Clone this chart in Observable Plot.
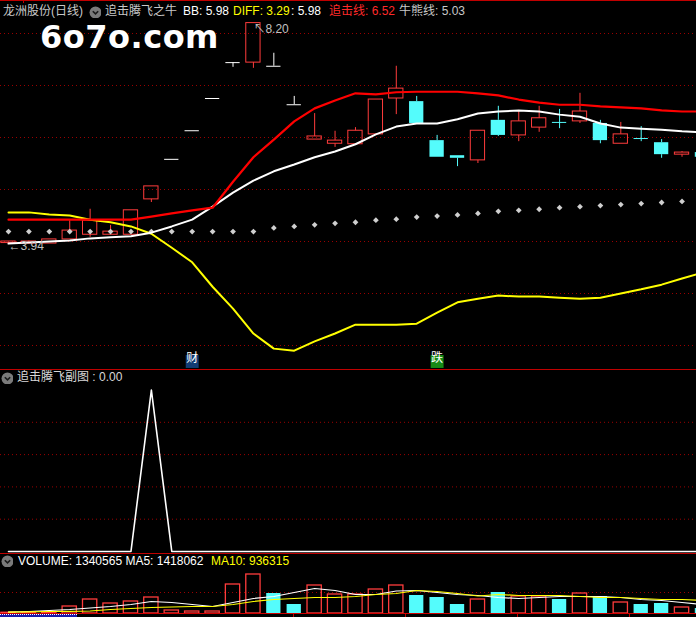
<!DOCTYPE html>
<html><head><meta charset="utf-8">
<script src="https://cdn.jsdelivr.net/npm/d3@7"></script>
<script src="https://cdn.jsdelivr.net/npm/@observablehq/plot@0.6"></script>
<style>
html,body{margin:0;padding:0;background:#000;}
#wrap{position:relative;width:696px;height:617px;overflow:hidden;background:#000;font-family:"Liberation Sans","Noto Sans CJK SC",sans-serif;font-size:12px;}
.pane{position:absolute;left:0;width:696px;overflow:hidden;}
.pane svg{display:block;}
.t{position:absolute;white-space:nowrap;line-height:13px;font-size:12px;font-family:"Liberation Sans","Noto Sans CJK SC",sans-serif;}
.hr{position:absolute;left:0;width:696px;height:1px;background:#c00000;}
.wm{position:absolute;left:40px;top:23px;font-family:"DejaVu Sans";font-weight:bold;font-size:32px;line-height:28px;color:#fff;letter-spacing:0.5px;}
.ic{position:absolute;width:12px;height:12px;}
</style></head>
<body><div id="wrap"></div>
<script>
// ---------------- DATA ----------------
const opens  = [3.97,3.96,3.96,4.04,4.13,4.13,4.13,4.81,5.58,6.13,6.75,7.44,7.44,7.37,6.63,5.96,5.88,5.87,6.06,6.75,6.69,5.94,5.65,5.56,6.33,6.04,6.19,6.29,6.31,6.27,5.88,5.98,5.90,5.67,5.71];
const closes = [4.00,4.00,4.04,4.21,4.40,4.19,4.60,5.06,5.58,6.13,6.75,7.44,8.20,7.37,6.63,6.02,5.94,6.13,6.73,6.94,6.27,5.62,5.60,6.13,6.04,6.31,6.37,6.29,6.50,5.94,6.06,5.98,5.67,5.71,5.62];
const highs  = [4.00,4.01,4.04,4.40,4.62,4.31,4.60,5.06,5.58,6.13,6.75,7.44,8.20,7.62,6.79,6.46,6.12,6.19,6.73,7.37,6.79,6.04,5.65,6.13,6.60,6.52,6.60,6.54,6.85,6.33,6.29,6.21,5.96,5.73,5.71];
const lows   = [3.94,3.95,3.96,4.04,4.08,4.13,4.13,4.75,5.58,6.13,6.75,7.35,7.33,7.37,6.63,5.96,5.81,5.87,6.06,6.44,6.27,5.62,5.44,5.50,6.02,5.92,6.10,6.17,6.27,5.88,5.88,5.92,5.60,5.62,5.62];
const kinds  = ["up","up","up","up","up","up","up","up","flat","flat","flat","flat","up","flat","flat","up","up","up","up","up","down","down","down","up","down","up","up","down","up","down","up","down","down","up","down"];

const chaseLine = [4.42,4.42,4.42,4.42,4.42,4.42,4.42,4.48,4.54,4.60,4.65,5.15,5.62,5.96,6.31,6.56,6.71,6.85,6.83,6.87,6.88,6.88,6.88,6.85,6.81,6.73,6.67,6.63,6.63,6.60,6.58,6.56,6.52,6.50,6.50];
const bbLine    = [3.96,3.98,4.00,4.02,4.06,4.08,4.10,4.17,4.29,4.42,4.67,4.94,5.17,5.35,5.48,5.62,5.73,5.87,6.06,6.21,6.27,6.27,6.35,6.46,6.50,6.52,6.50,6.44,6.40,6.27,6.19,6.17,6.15,6.12,6.10];
const diffLine  = [4.56,4.56,4.52,4.50,4.42,4.37,4.29,4.15,3.88,3.60,3.13,2.71,2.23,1.94,1.90,2.08,2.23,2.40,2.40,2.40,2.42,2.63,2.83,2.90,2.96,2.94,2.94,2.92,2.90,2.92,3.00,3.08,3.17,3.29,3.40];
const bullBear  = [4.19,4.19,4.19,4.19,4.19,4.19,4.19,4.19,4.19,4.19,4.19,4.19,4.19,4.26,4.29,4.32,4.35,4.37,4.41,4.43,4.47,4.49,4.51,4.54,4.58,4.60,4.62,4.65,4.67,4.69,4.71,4.73,4.75,4.77,4.79];
const mainGrid  = [2,3,4,5,6,7,8];

const signalIdx  = [9, 21];
const signalText = ["财", "跌"];

const subValues = [0,0,0,0,0,0,0,5,0,0,0,0,0,0,0,0,0,0,0,0,0,0,0,0,0,0,0,0,0,0,0,0,0,0,0];
const subGrid   = [1,2,3,4];

const volumes  = [150000,150000,200000,1400000,2800000,2000000,2400000,3200000,600000,400000,400000,5800000,7800000,4000000,1800000,5600000,3800000,3800000,4800000,5600000,3600000,3200000,1800000,2800000,4200000,3400000,3400000,2800000,4000000,3400000,2200000,1800000,2000000,1200000,1000000];
const volKinds = ["up","up","up","up","up","up","up","up","up","up","up","up","up","down","down","up","up","up","up","up","down","down","down","up","down","up","up","down","up","down","up","down","down","up","down"];
const volMA5   = [260000,400000,600000,800000,1100000,1400000,1800000,2400000,2200000,1800000,1400000,2200000,3000000,3400000,4200000,5000000,4600000,3800000,3800000,4500000,4600000,4200000,3800000,3600000,3200000,3000000,3200000,3400000,3400000,3400000,3200000,2800000,2600000,2200000,1800000];
const volMA10  = [260000,340000,400000,440000,500000,800000,1000000,1200000,1300000,1400000,1400000,1800000,2400000,2800000,3000000,3200000,3200000,3400000,3800000,4000000,4600000,4400000,4000000,3500000,3800000,3600000,3600000,3600000,3400000,3200000,3200000,3000000,2800000,2800000,2600000];
const volGrid  = [4200000];

const mainTitle = ["龙洲股份(日线)", "追击腾飞之牛", "BB: 5.98", "DIFF: 3.29", " : 5.98", "追击线: 6.52", "牛熊线: 5.03"];
const subTitle  = ["追击腾飞副图 : 0.00"];
const volTitle  = ["VOLUME: 1340565  MA5: 1418062", "MA10: 936315"];

// ---------------- LAYOUT / STYLE ----------------
const W = 696, STEP = 20.41, X0 = 8;
const xDomain = [-X0 / STEP, (W - X0) / STEP];
const RED = "#ff3c3c", CYAN = "#54fcfc", WHITE = "#ffffff", GRID = "#9a0000";
const HW = 0.35;

const candles = opens.map((o, i) => ({i, o, c: closes[i], h: highs[i], l: lows[i], k: kinds[i],
  chase: chaseLine[i], bb: bbLine[i], diff: diffLine[i], bull: bullBear[i]}));
const vols = volumes.map((v, i) => ({i, v, k: volKinds[i], ma5: volMA5[i], ma10: volMA10[i], sub: subValues[i]}));
const sigs = signalIdx.map((i, j) => ({i, t: signalText[j]}));

const wrap = document.getElementById("wrap");
function pane(top, h, svg) {
  const d = document.createElement("div");
  d.className = "pane"; d.style.top = top + "px"; d.style.height = h + "px";
  d.appendChild(svg); wrap.appendChild(d);
}
const baseStyle = {background: "transparent", fontFamily: "Liberation Sans, Noto Sans CJK SC, sans-serif"};

const up = candles.filter(d => d.k === "up");
const down = candles.filter(d => d.k === "down");
const flat = candles.filter(d => d.k === "flat");
const hiC = candles.reduce((a, b) => (b.h > a.h ? b : a));
const loC = candles.reduce((a, b) => (b.l < a.l ? b : a));
const wickMarks = (arr, col) => [
  Plot.ruleX(arr, {x: "i", y1: d => Math.max(d.o, d.c), y2: "h", stroke: col, strokeWidth: 1}),
  Plot.ruleX(arr, {x: "i", y1: d => Math.min(d.o, d.c), y2: "l", stroke: col, strokeWidth: 1})
];

// MAIN PANEL: page y = 33 + (8 - p) * 52
const mainH = 369;
const main = Plot.plot({
  width: W, height: mainH, margin: 0,
  x: {domain: xDomain, axis: null},
  y: {domain: [8 - (mainH - 33) / 52, 8 + 33 / 52], axis: null},
  style: baseStyle,
  marks: [
    Plot.ruleY(mainGrid, {stroke: GRID, strokeDasharray: "1,3"}),
    ...wickMarks(up, RED), ...wickMarks(down, CYAN), ...wickMarks(flat, WHITE),
    Plot.rect(up, {x1: d => d.i - HW, x2: d => d.i + HW, y1: "o", y2: "c", fill: "none", stroke: RED, strokeWidth: 1}),
    Plot.rect(down.filter(d => d.o !== d.c), {x1: d => d.i - HW, x2: d => d.i + HW, y1: "o", y2: "c", fill: CYAN}),
    Plot.ruleY(down.filter(d => d.o === d.c), {y: "o", x1: d => d.i - HW, x2: d => d.i + HW, stroke: CYAN}),
    Plot.ruleY(flat, {y: "o", x1: d => d.i - HW, x2: d => d.i + HW, stroke: WHITE}),
    Plot.dot(candles, {x: "i", y: "bull", symbol: "diamond2", r: 2.6, fill: "#cfcfcf", stroke: "none"}),
    Plot.line(candles, {x: "i", y: "diff", stroke: "#ffff00", strokeWidth: 2}),
    Plot.line(candles, {x: "i", y: "bb", stroke: WHITE, strokeWidth: 2}),
    Plot.line(candles, {x: "i", y: "chase", stroke: "#ff0000", strokeWidth: 2.2}),
    Plot.text([hiC], {x: "i", y: "h", text: d => "↖" + d.h.toFixed(2), textAnchor: "start", dx: 0, dy: 6, fill: "#c0c0c0", fontSize: 12}),
    Plot.text([loC], {x: "i", y: "l", text: d => "←" + d.l.toFixed(2), textAnchor: "start", dx: 0, dy: 2, fill: "#c0c0c0", fontSize: 12}),
    Plot.dot(sigs.filter(d => d.t === "财"), {x: "i", frameAnchor: "bottom", dy: -8, symbol: "square", r: 7.3, fill: "#123c74"}),
    Plot.dot(sigs.filter(d => d.t === "跌"), {x: "i", frameAnchor: "bottom", dy: -8, symbol: "square", r: 7.3, fill: "#168a16"}),
    Plot.text(sigs, {x: "i", frameAnchor: "bottom", dy: -8, text: "t", fill: WHITE, fontSize: 12, fontFamily: "Noto Sans CJK SC"})
  ]
});
pane(0, mainH, main);

// SUB PANEL: top 370, baseline page y 551, 32.3 px per unit
const subTop = 370, subH = 183;
const sub = Plot.plot({
  width: W, height: subH, margin: 0,
  x: {domain: xDomain, axis: null},
  y: {domain: [-(subH - 181) / 32.3, 181 / 32.3], axis: null},
  style: baseStyle,
  marks: [
    Plot.ruleY(subGrid, {stroke: GRID, strokeDasharray: "1,3"}),
    Plot.line(vols, {x: "i", y: "sub", stroke: WHITE, strokeWidth: 1.6})
  ]
});
pane(subTop, subH, sub);

// VOLUME PANEL: top 554, baseline page y 613, 200000 per px
const volTop = 554, volH = 60, PX = 200000;
const volUp = vols.filter(d => d.k === "up"), volDown = vols.filter(d => d.k === "down");
const vol = Plot.plot({
  width: W, height: volH, margin: 0,
  x: {domain: xDomain, axis: null},
  y: {domain: [-(volH - 59) * PX, 59 * PX], axis: null},
  style: baseStyle,
  marks: [
    Plot.ruleY(volGrid, {stroke: GRID, strokeDasharray: "1,3"}),
    Plot.rect(volUp, {x1: d => d.i - HW, x2: d => d.i + HW, y1: 0, y2: "v", fill: "none", stroke: RED, strokeWidth: 1.3}),
    Plot.rect(volDown, {x1: d => d.i - HW, x2: d => d.i + HW, y1: 0, y2: "v", fill: CYAN}),
    Plot.line(vols, {x: "i", y: "ma5", stroke: WHITE, strokeWidth: 1.2}),
    Plot.line(vols, {x: "i", y: "ma10", stroke: "#ffff00", strokeWidth: 1.2})
  ]
});
pane(volTop, volH, vol);

// ---------------- frame lines, labels ----------------
function hr(y, col) { const d = document.createElement("div"); d.className = "hr"; d.style.top = y + "px"; if (col) d.style.background = col; wrap.appendChild(d); }
hr(0); hr(369); hr(553); hr(613, "#d00000");
function box(x, y, w, h, bg) { const d = document.createElement("div"); d.style.cssText = `position:absolute;left:${x}px;top:${y}px;width:${w}px;height:${h}px;background:${bg};`; wrap.appendChild(d); return d; }
box(23, 0, 1, 3, "#c00000");
[293, 405, 517, 629].forEach(x => box(x, 614, 1, 3, "#c00000"));
const nav = box(0, 614, 77, 3, "#1b1baa");
nav.style.borderTop = "1px dotted #ffffff"; nav.style.boxSizing = "border-box";

function label(text, x, y, color) {
  const s = document.createElement("div"); s.className = "t";
  s.style.left = x + "px"; s.style.top = y + "px"; s.style.color = color; s.textContent = text;
  wrap.appendChild(s); return s;
}
function icon(cx, cy) {
  const ns = "http://www.w3.org/2000/svg";
  const s = document.createElementNS(ns, "svg");
  s.setAttribute("width", 13); s.setAttribute("height", 13);
  s.setAttribute("class", "ic"); s.style.left = (cx - 6.5) + "px"; s.style.top = (cy - 6.5) + "px";
  s.innerHTML = '<circle cx="6.5" cy="6.5" r="6" fill="#7a7a7a"/><path d="M3.8 5.2 L6.5 7.9 L9.2 5.2" fill="none" stroke="#1a1a1a" stroke-width="1.6"/>';
  wrap.appendChild(s);
}
const titleX = [3, 105, 183, 233, 291, 329, 399];
const titleC = ["#c8c8c8", "#c8c8c8", "#ffffff", "#ffff00", "#ffffff", "#ff2a2a", "#c8c8c8"];
mainTitle.forEach((t, j) => label(t, titleX[j], 5, titleC[j]));
icon(95, 12);
icon(7.5, 378);
label(subTitle[0], 17, 371, "#d8d8d8");
icon(7.5, 561.5);
label(volTitle[0], 18, 555, "#ffffff");
label(volTitle[1], 211, 555, "#ffff00");

const wm = document.createElement("div"); wm.className = "wm"; wm.textContent = "6o7o.com"; wrap.appendChild(wm);
</script></body></html>
